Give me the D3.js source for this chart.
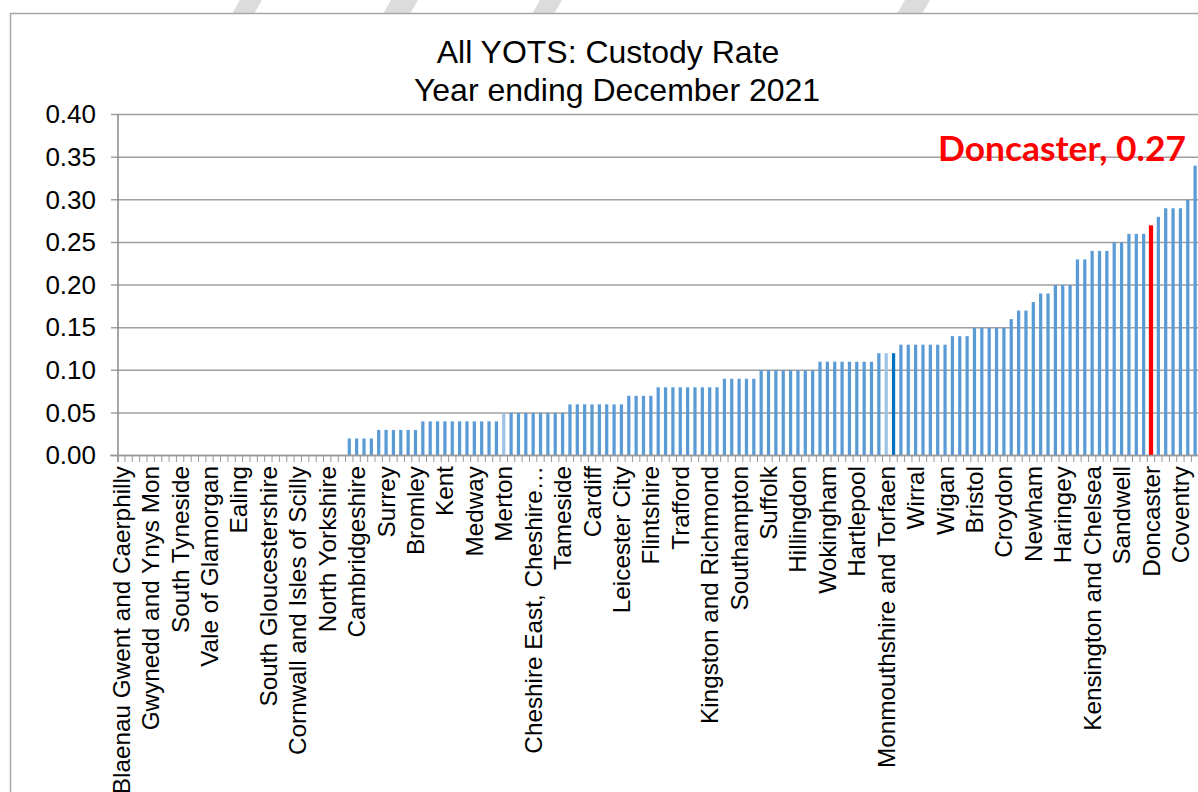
<!DOCTYPE html>
<html>
<head>
<meta charset="utf-8">
<script src="https://cdn.jsdelivr.net/npm/d3@7"></script>
<style>
  html, body { margin: 0; padding: 0; background: #fff; }
  svg { display: block; }
</style>
</head>
<body>
<svg id="chart" width="1198" height="792"></svg>
<script>
// ---- DATA ----
const titleLines = ["All YOTS: Custody Rate", "Year ending December 2021"];

// Every 4th YOT is labelled on the axis (index 0, 4, 8, ...)
const shownLabels = [
  "Blaenau Gwent and Caerphilly", "Gwynedd and Ynys Mon", "South Tyneside", "Vale of Glamorgan",
  "Ealing", "South Gloucestershire", "Cornwall and Isles of Scilly", "North Yorkshire",
  "Cambridgeshire", "Surrey", "Bromley", "Kent", "Medway", "Merton", "Cheshire East, Cheshire…",
  "Tameside", "Cardiff", "Leicester City", "Flintshire", "Trafford", "Kingston and Richmond",
  "Southampton", "Suffolk", "Hillingdon", "Wokingham", "Hartlepool", "Monmouthshire and Torfaen",
  "Wirral", "Wigan", "Bristol", "Croydon", "Newham", "Haringey", "Kensington and Chelsea",
  "Sandwell", "Doncaster", "Coventry"
];

const custodyRates = [
  0,0,0,0,0,0,0,0,0,0,
  0,0,0,0,0,0,0,0,0,0,
  0,0,0,0,0,0,0,0,0,0,
  0,0.02,0.02,0.02,0.02,0.03,0.03,0.03,0.03,0.03,
  0.03,0.04,0.04,0.04,0.04,0.04,0.04,0.04,0.04,0.04,
  0.04,0.04,0.05,0.05,0.05,0.05,0.05,0.05,0.05,0.05,
  0.05,0.06,0.06,0.06,0.06,0.06,0.06,0.06,0.06,0.07,
  0.07,0.07,0.07,0.08,0.08,0.08,0.08,0.08,0.08,0.08,
  0.08,0.08,0.09,0.09,0.09,0.09,0.09,0.10,0.10,0.10,
  0.10,0.10,0.10,0.10,0.10,0.11,0.11,0.11,0.11,0.11,
  0.11,0.11,0.11,0.12,0.12,0.12,0.13,0.13,0.13,0.13,
  0.13,0.13,0.13,0.14,0.14,0.14,0.15,0.15,0.15,0.15,
  0.15,0.16,0.17,0.17,0.18,0.19,0.19,0.20,0.20,0.20,
  0.23,0.23,0.24,0.24,0.24,0.25,0.25,0.26,0.26,0.26,
  0.27,0.28,0.29,0.29,0.29,0.30,0.34
];

// special bars: index -> colour role
const lightBars = [52, 104];
const darkBars = [105];
const highlightIndex = 140; // Doncaster
const annotation = "Doncaster, 0.27";

const yTicks = [0, 0.05, 0.10, 0.15, 0.20, 0.25, 0.30, 0.35, 0.40];

// ---- DRAW ----
const svg = d3.select("#chart");

// faint watermark strokes peeking above the chart frame
const wm = [[232,262],[383,418],[532,562],[897,930]];
svg.selectAll("polygon.wm").data(wm).join("polygon")
  .attr("fill", "#dcdcdc")
  .attr("points", d => `${d[0]+8},0 ${d[1]},0 ${d[1]-8},14 ${d[0]},14`);

// chart frame
svg.append("rect")
  .attr("x", 10.5).attr("y", 13.5)
  .attr("width", 1300).attr("height", 900)
  .attr("fill", "#fff").attr("stroke", "#a6a6a6").attr("stroke-width", 1.5);

const n = custodyRates.length;
const x = d3.scaleBand().domain(d3.range(n)).range([117.6, 1198.8]).paddingInner(0.56).paddingOuter(0.28);
const y = d3.scaleLinear().domain([0, 0.4]).range([455.5, 114.5]);

// gridlines
svg.append("g").selectAll("line").data(yTicks).join("line")
  .attr("x1", 111).attr("x2", 1198)
  .attr("y1", d => y(d)).attr("y2", d => y(d))
  .attr("stroke", "#a0a0a0").attr("stroke-width", 1.5);

// y axis
const yAxis = d3.axisLeft(y).tickValues(yTicks).tickFormat(d3.format(".2f")).tickSize(0).tickPadding(22);
const gy = svg.append("g").attr("transform", "translate(118,0)").call(yAxis);
gy.select(".domain").remove();
gy.selectAll("text").attr("font-family", "Liberation Sans, Arial, sans-serif")
  .attr("font-size", 26).attr("fill", "#000");
svg.append("line").attr("x1", 118).attr("x2", 118).attr("y1", 114).attr("y2", 462)
  .attr("stroke", "#888").attr("stroke-width", 1.5);

// x axis tick marks at category boundaries
const step = x.step();
const x0 = 117.6;
svg.append("g").selectAll("line").data(d3.range(n + 1)).join("line")
  .attr("x1", d => x0 + d * step).attr("x2", d => x0 + d * step)
  .attr("y1", 455.5).attr("y2", 462)
  .attr("stroke", "#999").attr("stroke-width", 1);

// bars
svg.append("g").selectAll("rect").data(custodyRates.map((v, i) => ({v, i}))).join("rect")
  .attr("x", d => d.i === highlightIndex ? x(d.i) - 0.5 : x(d.i))
  .attr("width", d => d.i === highlightIndex ? x.bandwidth() + 1 : x.bandwidth())
  .attr("y", d => y(d.v))
  .attr("height", d => y(0) - y(d.v))
  .attr("fill", d => d.i === highlightIndex ? "#ff0000"
        : lightBars.includes(d.i) ? "#9dc3e6"
        : darkBars.includes(d.i) ? "#0070c0" : "#5b9bd5");

// x axis line
svg.append("line").attr("x1", 110).attr("x2", 1198).attr("y1", 455.5).attr("y2", 455.5)
  .attr("stroke", "#999").attr("stroke-width", 1.5);

// x labels (every 4th)
svg.append("g").selectAll("text").data(shownLabels).join("text")
  .attr("transform", (d, k) => `translate(${x(k * 4) + x.bandwidth() / 2},466) rotate(-90)`)
  .attr("text-anchor", "end")
  .attr("dy", "0.35em")
  .attr("font-family", "Liberation Sans, Arial, sans-serif")
  .attr("font-size", 24.3)
  .attr("fill", "#000")
  .text(d => d);

// title
svg.append("g").selectAll("text").data(titleLines).join("text")
  .attr("x", (d, i) => i === 0 ? 608 : 617).attr("y", (d, i) => 63 + i * 38)
  .attr("text-anchor", "middle")
  .attr("font-family", "Liberation Sans, Arial, sans-serif")
  .attr("font-size", 32)
  .attr("fill", "#000")
  .text(d => d);

// annotation
svg.append("text")
  .attr("x", 1186).attr("y", 161)
  .attr("text-anchor", "end")
  .attr("font-family", "Lato, 'Open Sans', sans-serif")
  .attr("font-weight", "bold")
  .attr("font-size", 34)
  .attr("textLength", 248)
  .attr("lengthAdjust", "spacingAndGlyphs")
  .attr("fill", "#ff0000")
  .text(annotation);
</script>
</body>
</html>
